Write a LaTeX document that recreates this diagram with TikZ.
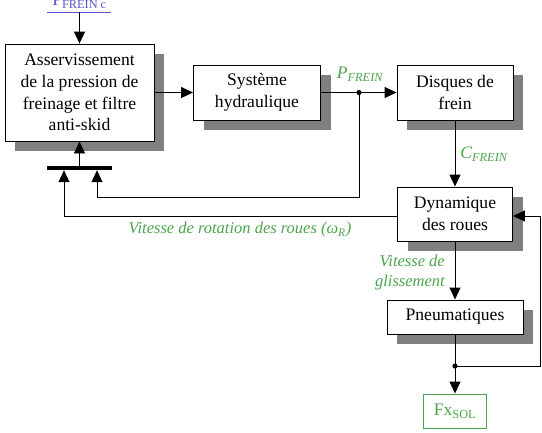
\documentclass[tikz,border=0pt]{standalone}
\usepackage{fontspec}
\setmainfont{Liberation Serif}
\newfontfamily\serifa{Liberation Serif}
\usetikzlibrary{arrows.meta,shadows,positioning}

\definecolor{vert}{RGB}{75,165,75}
\definecolor{bleu}{RGB}{85,85,200}
\definecolor{ombre}{RGB}{128,128,128}

\tikzset{
    bloc/.style={draw, line width=0.9pt, fill=white, inner sep=0pt, align=center,
        font=\serifa\fontsize{17.6}{21.8}\selectfont,
        general shadow={fill=ombre, shadow xshift=10pt, shadow yshift=-10pt}},
    sortie/.style={draw=vert, line width=0.9pt, text=vert, inner sep=0pt,
        font=\serifa\fontsize{17.6}{22}\selectfont},
    barre/.style={fill=black, inner sep=0pt, minimum width=65pt, minimum height=4pt},
    fleche/.style={line width=0.9pt, -{Triangle[length=12pt,width=11pt]}},
    lien/.style={line width=0.9pt},
    etiq/.style={text=vert, font=\serifa\fontsize{16.5}{20}\selectfont\itshape, inner sep=0pt},
}

\begin{document}
\begin{tikzpicture}[x=1pt, y=-1pt, line cap=butt, line join=miter]
        \useasboundingbox (0,0) rectangle (542,432);

        % parameters
        \def\xa{79.5}  % column of the controller
        \def\xb{455}   % column of the plant blocks
        \def\yl{92.5}  % upper line

        % blocks
        \node[bloc, minimum width=149pt, minimum height=97pt] (ctrl) at (\xa,\yl)
            {Asservissement\\de la pression de\\freinage et filtre\\anti-skid};
        \node[bloc, minimum width=127pt, minimum height=55pt] (hydro) at (257,\yl)
            {Système\\hydraulique};
        \node[bloc, minimum width=116pt, minimum height=55pt] (disq) at (\xb,\yl)
            {Disques de\\frein};
        \node[bloc, minimum width=115pt, minimum height=54pt] (dyn) at (\xb,214)
            {Dynamique\\des roues};
        \node[bloc, minimum width=136pt, minimum height=34pt] (pneu) at (\xb,317)
            {Pneumatiques};
        \node[sortie, minimum width=63pt, minimum height=34pt] (fx) at (\xb,411)
            {Fx\textsubscript{SOL}};

        % summing bar
        \node[barre] (somme) at (\xa,168) {};

        % set point
        \coordinate (ref) at (\xa,12);
        \node[text=bleu, anchor=base, inner sep=0pt, font=\serifa\fontsize{17.6}{22}\selectfont]
            (cons) at (\xa,5.5) {P\textsubscript{FREIN c}};
        \draw[bleu, line width=0.8pt] ([xshift=-32.5pt]ref) -- ([xshift=31pt]ref);

        % junctions
        \coordinate (p) at (359,\yl);
        \coordinate (q) at (\xb,366);
        \coordinate (r1) at (97,197);
        \coordinate (r3) at (540,366);

        % forward path
        \draw[fleche] (ref) -- (ctrl);
        \draw[fleche] (ctrl) -- (hydro);
        \draw[lien] (hydro) -- (p);
        \draw[fleche] (p) -- (disq);
        \draw[fleche] (disq) -- (dyn);
        \draw[fleche] (dyn) -- (pneu);
        \draw[lien] (pneu) -- (q);
        \draw[fleche] (q) -- (fx);
        \draw[fleche] (somme) -- (ctrl);

        % feedback
        \draw[fleche] (p) |- (r1) -- (r1 |- somme.south);
        \draw[fleche] ([yshift=-2pt]dyn.west) -| ([xshift=-15.5pt]somme.south);
        \draw[fleche] (q) -- (r3) |- ([yshift=-2pt]dyn.east);
        \fill (p) circle (2.6pt);
        \fill (q) circle (2.6pt);

        % labels
        \node[etiq, font=\serifa\fontsize{17.6}{20}\selectfont\itshape] (lpf) at (360,74)
            {P\textsubscript{FREIN}};
        \node[etiq, font=\serifa\fontsize{17.6}{20}\selectfont\itshape] (lcf) at (484,154)
            {C\textsubscript{FREIN}};
        \node[etiq] (lw) at (240,229.5)
            {Vitesse de rotation des roues (ω\textsubscript{R})};
        \node[etiq, anchor=east, align=right] (lg) at (445,273)
            {Vitesse de\\glissement};
\end{tikzpicture}
\end{document}
